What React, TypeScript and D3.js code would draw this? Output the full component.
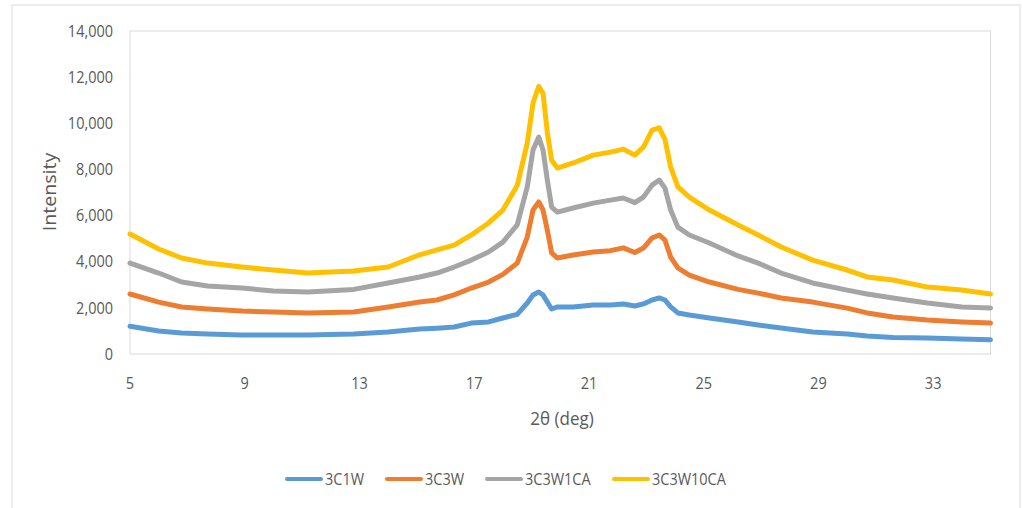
import * as d3 from 'd3';

const twoTheta = [5, 6, 6.8, 7.7, 8.9, 10, 11.2, 12.8, 14, 15.1, 15.7, 16.3, 16.9, 17.5, 18, 18.5, 18.85, 19.05, 19.25, 19.4, 19.55, 19.7, 19.9, 20.45, 21.15, 21.75, 22.2, 22.6, 22.9, 23.2, 23.45, 23.65, 23.85, 24.1, 24.5, 25.2, 26.2, 26.9, 27.7, 28.8, 30, 30.7, 31.6, 32.8, 34, 35];

const s3C1W = [1200, 1000, 910, 870, 820, 820, 820, 870, 950, 1080, 1120, 1170, 1340, 1390, 1560, 1720, 2210, 2560, 2690, 2560, 2250, 1950, 2040, 2040, 2120, 2120, 2170, 2080, 2170, 2340, 2430, 2340, 2040, 1780, 1690, 1560, 1390, 1260, 1130, 950, 870, 780, 720, 690, 650, 620];
const s3C3W = [2600, 2250, 2040, 1950, 1860, 1820, 1780, 1820, 2040, 2250, 2340, 2560, 2860, 3120, 3450, 3940, 5070, 6240, 6590, 6240, 5370, 4380, 4160, 4290, 4420, 4480, 4600, 4400, 4590, 5030, 5160, 4940, 4200, 3730, 3420, 3120, 2800, 2640, 2430, 2250, 1990, 1780, 1600, 1470, 1390, 1340];
const s3C3W1CA = [3940, 3510, 3120, 2950, 2860, 2730, 2690, 2800, 3080, 3340, 3510, 3770, 4070, 4420, 4850, 5600, 7240, 8840, 9400, 8840, 7540, 6370, 6150, 6330, 6540, 6670, 6760, 6560, 6800, 7320, 7540, 7190, 6240, 5500, 5160, 4810, 4250, 3940, 3510, 3080, 2770, 2600, 2430, 2210, 2040, 1990];
const s3C3W10CA = [5200, 4550, 4160, 3940, 3770, 3640, 3510, 3600, 3770, 4300, 4510, 4720, 5160, 5680, 6240, 7300, 9140, 10880, 11600, 11300, 9600, 8400, 8060, 8280, 8620, 8750, 8880, 8620, 8970, 9700, 9800, 9300, 8100, 7240, 6800, 6240, 5590, 5160, 4640, 4070, 3640, 3340, 3210, 2900, 2770, 2600];

const seriesNames = ['3C1W', '3C3W', '3C3W1CA', '3C3W10CA'];
const seriesColors = ['#5B9BD5', '#ED7D31', '#A5A5A5', '#FFC000'];
const seriesValues = [s3C1W, s3C3W, s3C3W1CA, s3C3W10CA];

const xTicks = [5, 9, 13, 17, 21, 25, 29, 33];
const yTicks = [0, 2000, 4000, 6000, 8000, 10000, 12000, 14000];

const W = 1022;
const H = 508;
const plot = { left: 130, right: 990.5, top: 31, bottom: 354 };
const font = "'Open Sans', sans-serif";
const textColor = '#595959';
const stretch = 'scale(1, 1.12)'; // the source text is a little taller than it is wide

export default function App() {
    const x = d3.scaleLinear().domain([5, 35]).range([plot.left, plot.right]);
    const y = d3.scaleLinear().domain([0, 14000]).range([plot.bottom, plot.top]);
    const fmt = d3.format(',');

    const line = d3
        .line<number>()
        .x((d, i) => x(twoTheta[i]))
        .y(d => y(d));

    // legend layout: 38px swatch, 3px gap, label, 20px gap
    const legendStarts = [285, 385, 485, 612];

    return (
        <svg
            width={W}
            height={H}
            style={{ position: 'fixed', left: 0, top: 0, background: '#fff' }}
            fontFamily={font}
        >
            <rect x={12} y={5} width={1008} height={520} fill="#fff" stroke="#D9D9D9" strokeWidth={1} />
            <rect
                x={plot.left}
                y={plot.top}
                width={plot.right - plot.left}
                height={plot.bottom - plot.top}
                fill="none"
                stroke="#D9D9D9"
                strokeWidth={1}
            />

            {yTicks.map(t => (
                <text
                    key={t}
                    transform={`translate(113, ${y(t)}) ${stretch}`}
                    dy="0.35em"
                    textAnchor="end"
                    fontSize={14.5}
                    fill={textColor}
                >
                    {fmt(t)}
                </text>
            ))}
            {xTicks.map(t => (
                <text
                    key={t}
                    transform={`translate(${x(t)}, 383) ${stretch}`}
                    dy="0.35em"
                    textAnchor="middle"
                    fontSize={14.5}
                    fill={textColor}
                >
                    {t}
                </text>
            ))}

            <text
                transform={`translate(50, 192) rotate(-90) scale(1.12, 1)`}
                textAnchor="middle"
                dy="0.35em"
                fontSize={17.5}
                fill={textColor}
            >
                Intensity
            </text>
            <text transform={`translate(562, 418) ${stretch}`} dy="0.35em" textAnchor="middle" fontSize={17} fill={textColor}>
                2θ (deg)
            </text>

            <g fill="none" strokeLinejoin="round" strokeLinecap="round">
                {seriesValues.map((vals, i) => (
                    <path key={seriesNames[i]} d={line(vals) || ''} stroke={seriesColors[i]} strokeWidth={5} />
                ))}
            </g>

            {seriesNames.map((name, i) => (
                <g key={name} transform={`translate(${legendStarts[i]}, 479)`}>
                    <line x1={2} x2={36} y1={0} y2={0} stroke={seriesColors[i]} strokeWidth={4} strokeLinecap="round" />
                    <text transform={`translate(40, 0) ${stretch}`} dy="0.35em" fontSize={14.5} fill={textColor}>
                        {name}
                    </text>
                </g>
            ))}
        </svg>
    );
}
